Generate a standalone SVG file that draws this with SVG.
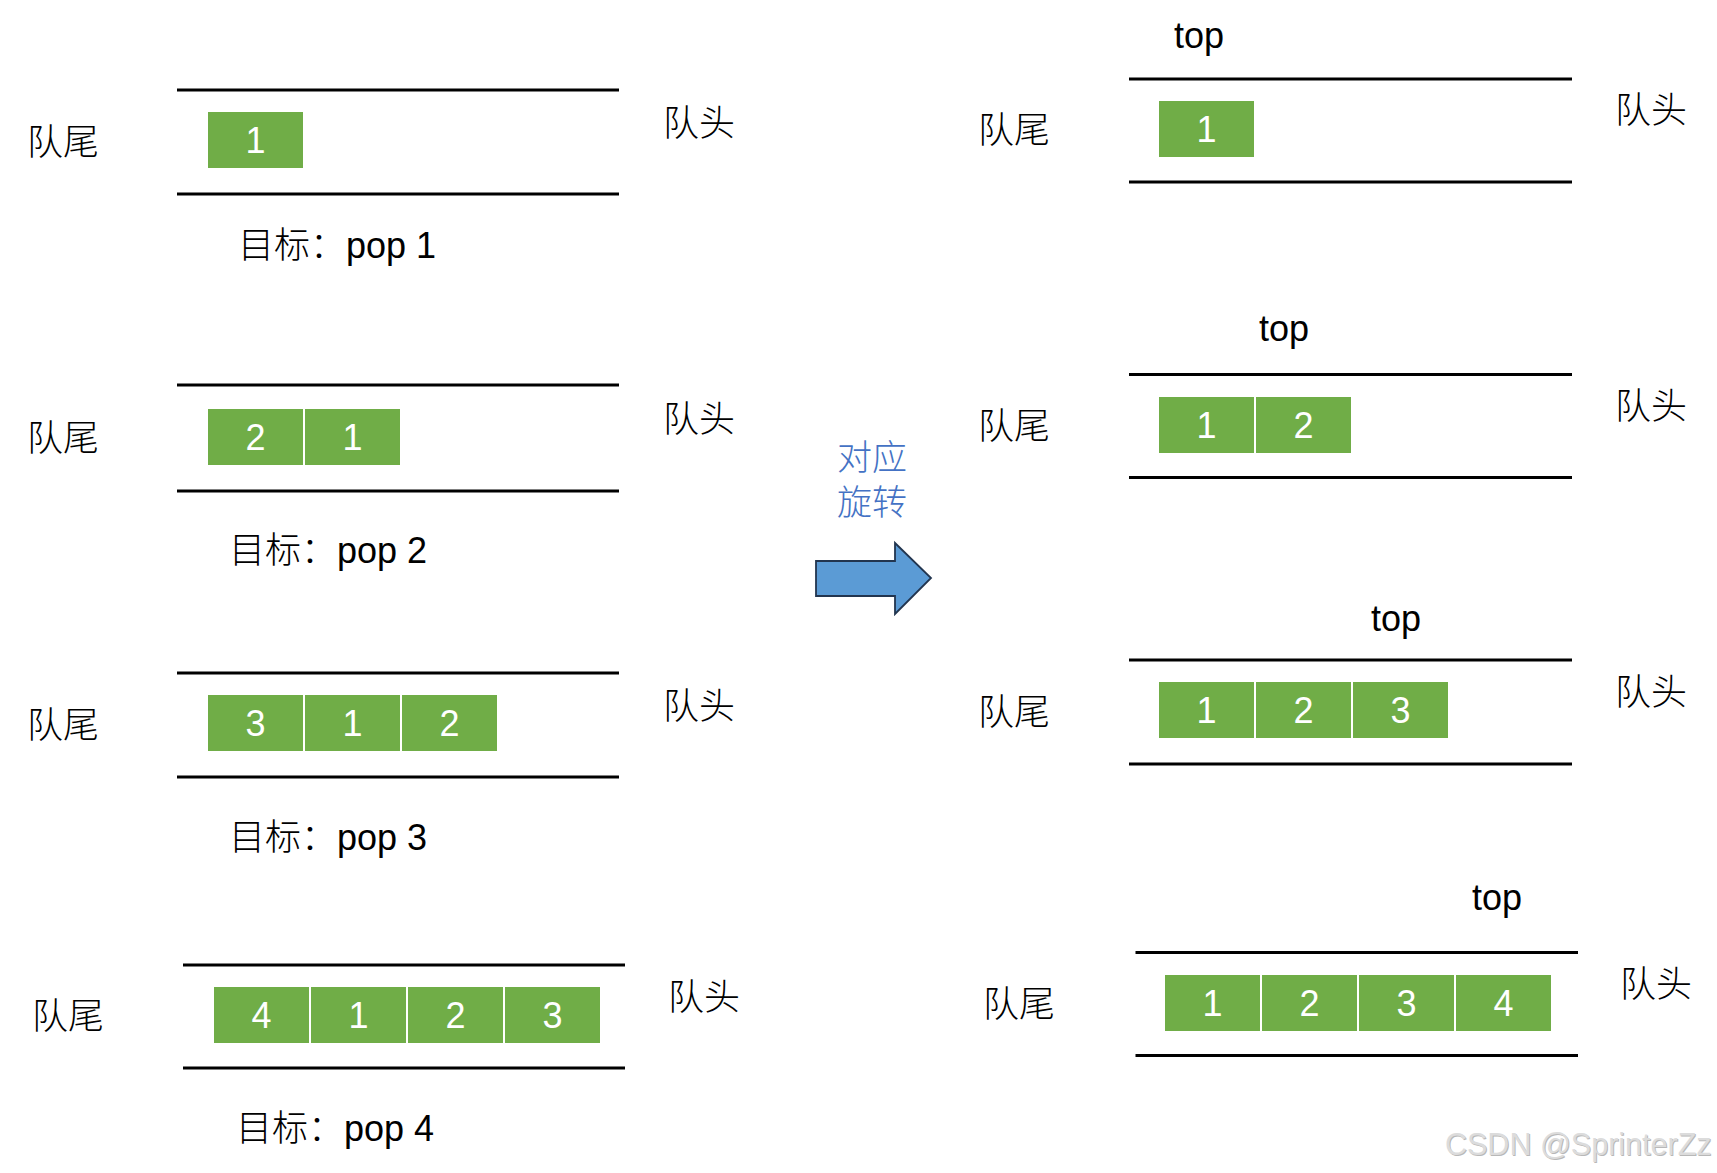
<svg xmlns="http://www.w3.org/2000/svg" width="1717" height="1173" viewBox="0 0 1717 1173">
<style>
.bg{fill:#ffffff}
.rail{stroke:#000;stroke-width:3.2;fill:none}
.cell{fill:#70AD47;stroke:#ffffff;stroke-width:2}
.num{font-family:"Liberation Sans","Noto Sans",sans-serif;font-size:36px;fill:#fff;text-anchor:middle}
.lbl{font-family:"Noto Sans CJK SC",sans-serif;font-size:36px;font-weight:300;fill:#000}
.goal{font-family:"Liberation Sans","Noto Sans CJK SC",sans-serif;font-size:36px;font-weight:300;fill:#000}
.top{font-family:"Liberation Sans","Noto Sans",sans-serif;font-size:36px;fill:#000}
.blue{font-family:"Liberation Sans","Noto Sans CJK SC",sans-serif;font-size:35px;font-weight:300;fill:#4472C4}
.wm{font-family:"Liberation Sans",Arial,sans-serif;font-size:30.5px;fill:#dcdcdc}
.wms{font-family:"Liberation Sans",Arial,sans-serif;font-size:30.5px;fill:#b8b8b8}
</style>
<rect class="bg" x="0" y="0" width="1717" height="1173"/>

<!-- LEFT ROW 1 -->
<g id="left-row1">
<line class="rail" x1="177" y1="90" x2="619" y2="90"/>
<line class="rail" x1="177" y1="194" x2="619" y2="194"/>
<rect class="cell" x="207" y="111" width="97" height="58"/>
<text class="num" x="255.5" y="153">1</text>
<text class="lbl" x="27" y="155">队尾</text>
<text class="lbl" x="663" y="136">队头</text>
<text class="goal" x="238" y="258">目标：pop 1</text>
</g>

<!-- LEFT ROW 2 -->
<g id="left-row2">
<line class="rail" x1="177" y1="385" x2="619" y2="385"/>
<line class="rail" x1="177" y1="491" x2="619" y2="491"/>
<rect class="cell" x="207" y="408" width="97" height="58"/>
<rect class="cell" x="304" y="408" width="97" height="58"/>
<text class="num" x="255.5" y="450">2</text>
<text class="num" x="352.5" y="450">1</text>
<text class="lbl" x="27" y="451">队尾</text>
<text class="lbl" x="663" y="432">队头</text>
<text class="goal" x="229" y="563">目标：pop 2</text>
</g>

<!-- LEFT ROW 3 -->
<g id="left-row3">
<line class="rail" x1="177" y1="673" x2="619" y2="673"/>
<line class="rail" x1="177" y1="777" x2="619" y2="777"/>
<rect class="cell" x="207" y="694" width="97" height="58"/>
<rect class="cell" x="304" y="694" width="97" height="58"/>
<rect class="cell" x="401" y="694" width="97" height="58"/>
<text class="num" x="255.5" y="736">3</text>
<text class="num" x="352.5" y="736">1</text>
<text class="num" x="449.5" y="736">2</text>
<text class="lbl" x="27" y="738">队尾</text>
<text class="lbl" x="663" y="719">队头</text>
<text class="goal" x="229" y="850">目标：pop 3</text>
</g>

<!-- LEFT ROW 4 -->
<g id="left-row4">
<line class="rail" x1="183" y1="965" x2="625" y2="965"/>
<line class="rail" x1="183" y1="1068" x2="625" y2="1068"/>
<rect class="cell" x="213" y="986" width="97" height="58"/>
<rect class="cell" x="310" y="986" width="97" height="58"/>
<rect class="cell" x="407" y="986" width="97" height="58"/>
<rect class="cell" x="504" y="986" width="97" height="58"/>
<text class="num" x="261.5" y="1028">4</text>
<text class="num" x="358.5" y="1028">1</text>
<text class="num" x="455.5" y="1028">2</text>
<text class="num" x="552.5" y="1028">3</text>
<text class="lbl" x="32" y="1029">队尾</text>
<text class="lbl" x="668" y="1010">队头</text>
<text class="goal" x="236" y="1141">目标：pop 4</text>
</g>

<!-- CENTER ARROW -->
<g id="rotate-arrow">
<text class="blue"><tspan x="837" y="470">对应</tspan><tspan x="837" y="515">旋转</tspan></text>
<path d="M816,561 L895,561 L895,543 L931,578 L895,614 L895,596 L816,596 Z" fill="#5B9BD5" stroke="#22354f" stroke-width="1.8" stroke-linejoin="miter"/>
</g>

<!-- RIGHT ROW 1 -->
<g id="right-row1">
<text class="top" x="1174" y="48">top</text>
<line class="rail" x1="1129" y1="79" x2="1572" y2="79"/>
<line class="rail" x1="1129" y1="182" x2="1572" y2="182"/>
<rect class="cell" x="1158" y="100" width="97" height="58"/>
<text class="num" x="1206.5" y="142">1</text>
<text class="lbl" x="978" y="143">队尾</text>
<text class="lbl" x="1615" y="123">队头</text>
</g>

<!-- RIGHT ROW 2 -->
<g id="right-row2">
<text class="top" x="1259" y="341">top</text>
<line class="rail" x1="1129" y1="374.5" x2="1572" y2="374.5"/>
<line class="rail" x1="1129" y1="477.5" x2="1572" y2="477.5"/>
<rect class="cell" x="1158" y="396" width="97" height="58"/>
<rect class="cell" x="1255" y="396" width="97" height="58"/>
<text class="num" x="1206.5" y="438">1</text>
<text class="num" x="1303.5" y="438">2</text>
<text class="lbl" x="978" y="439">队尾</text>
<text class="lbl" x="1615" y="419">队头</text>
</g>

<!-- RIGHT ROW 3 -->
<g id="right-row3">
<text class="top" x="1371" y="631">top</text>
<line class="rail" x1="1129" y1="660" x2="1572" y2="660"/>
<line class="rail" x1="1129" y1="764" x2="1572" y2="764"/>
<rect class="cell" x="1158" y="681" width="97" height="58"/>
<rect class="cell" x="1255" y="681" width="97" height="58"/>
<rect class="cell" x="1352" y="681" width="97" height="58"/>
<text class="num" x="1206.5" y="723">1</text>
<text class="num" x="1303.5" y="723">2</text>
<text class="num" x="1400.5" y="723">3</text>
<text class="lbl" x="978" y="725">队尾</text>
<text class="lbl" x="1615" y="705">队头</text>
</g>

<!-- RIGHT ROW 4 -->
<g id="right-row4">
<text class="top" x="1472" y="910">top</text>
<line class="rail" x1="1135.5" y1="952.5" x2="1578" y2="952.5"/>
<line class="rail" x1="1135.5" y1="1055.5" x2="1578" y2="1055.5"/>
<rect class="cell" x="1164" y="974" width="97" height="58"/>
<rect class="cell" x="1261" y="974" width="97" height="58"/>
<rect class="cell" x="1358" y="974" width="97" height="58"/>
<rect class="cell" x="1455" y="974" width="97" height="58"/>
<text class="num" x="1212.5" y="1016">1</text>
<text class="num" x="1309.5" y="1016">2</text>
<text class="num" x="1406.5" y="1016">3</text>
<text class="num" x="1503.5" y="1016">4</text>
<text class="lbl" x="983" y="1017">队尾</text>
<text class="lbl" x="1620" y="997">队头</text>
</g>

<!-- watermark -->
<g id="watermark">
<text class="wms" x="1446" y="1156">CSDN @SprinterZz</text>
<text class="wm" x="1445" y="1155">CSDN @SprinterZz</text>
</g>
</svg>
